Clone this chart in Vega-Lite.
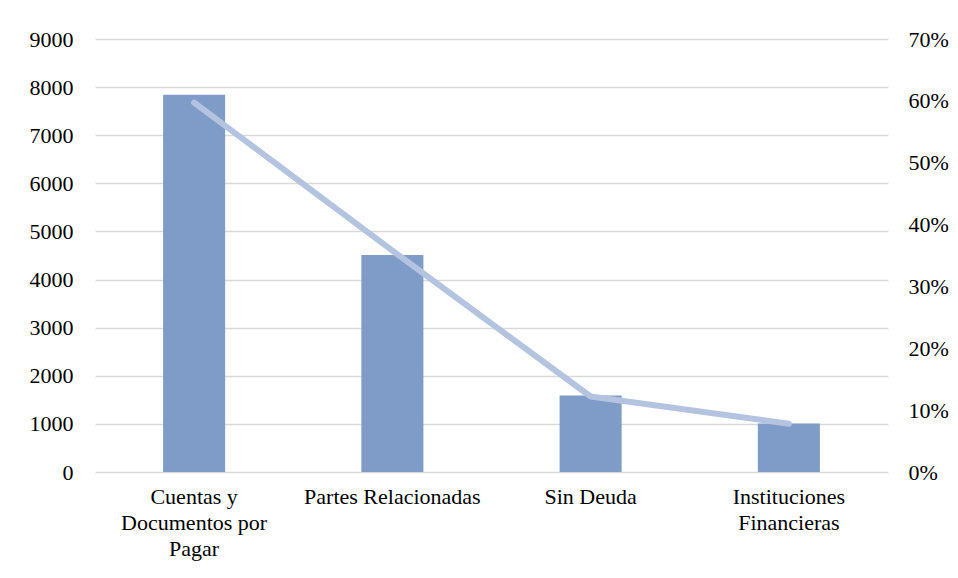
{
  "$schema": "https://vega.github.io/schema/vega-lite/v6.json",
  "autosize": {"type": "none"},
  "width": 793,
  "height": 433,
  "padding": {"left": 95, "top": 39, "right": 70, "bottom": 106},
  "background": "white",
  "config": {
    "view": {"stroke": null},
    "font": "Liberation Serif",
    "axis": {"labelFont": "'Liberation Serif', 'Times New Roman', serif", "labelFontSize": 22, "labelColor": "#000000", "titleFont": "Liberation Serif", "labelOverlap": false}
  },
  "data": {
    "values": [
      {"categoria": "Cuentas y Documentos por Pagar", "cantidad": 7840, "porcentaje": 0.597},
      {"categoria": "Partes Relacionadas", "cantidad": 4510, "porcentaje": 0.358},
      {"categoria": "Sin Deuda", "cantidad": 1590, "porcentaje": 0.122},
      {"categoria": "Instituciones Financieras", "cantidad": 1010, "porcentaje": 0.078}
    ]
  },
  "encoding": {
    "x": {
      "field": "categoria",
      "type": "nominal",
      "sort": null,
      "scale": {"paddingInner": 0.687, "paddingOuter": 0.3435},
      "axis": {
        "title": null,
        "labelAngle": 0,
        "domain": false,
        "ticks": false,
        "labelPadding": 14,
        "labelLineHeight": 26,
        "labelBaseline": "top",
        "labelExpr": "datum.value == 'Cuentas y Documentos por Pagar' ? ['Cuentas y', 'Documentos por', 'Pagar'] : datum.value == 'Instituciones Financieras' ? ['Instituciones', 'Financieras'] : datum.value"
      }
    }
  },
  "layer": [
    {
      "mark": {"type": "bar", "color": "#7F9CC8"},
      "encoding": {
        "y": {
          "field": "cantidad",
          "type": "quantitative",
          "scale": {"domain": [0, 9000], "nice": false},
          "axis": {
            "title": null,
            "values": [0, 1000, 2000, 3000, 4000, 5000, 6000, 7000, 8000, 9000],
            "domain": false,
            "ticks": false,
            "labelPadding": 22,
            "gridColor": "#D9D9D9",
            "gridWidth": 1.5,
            "format": "d"
          }
        }
      }
    },
    {
      "mark": {"type": "line", "color": "#B4C3DF", "strokeWidth": 6, "strokeCap": "round", "strokeJoin": "round"},
      "encoding": {
        "y": {
          "field": "porcentaje",
          "type": "quantitative",
          "scale": {"domain": [0, 0.7], "nice": false},
          "axis": {
            "orient": "right",
            "title": null,
            "values": [0, 0.1, 0.2, 0.3, 0.4, 0.5, 0.6, 0.7],
            "format": ".0%",
            "grid": false,
            "domain": false,
            "ticks": false,
            "labelPadding": 20
          }
        }
      }
    }
  ],
  "resolve": {"scale": {"y": "independent"}}
}
